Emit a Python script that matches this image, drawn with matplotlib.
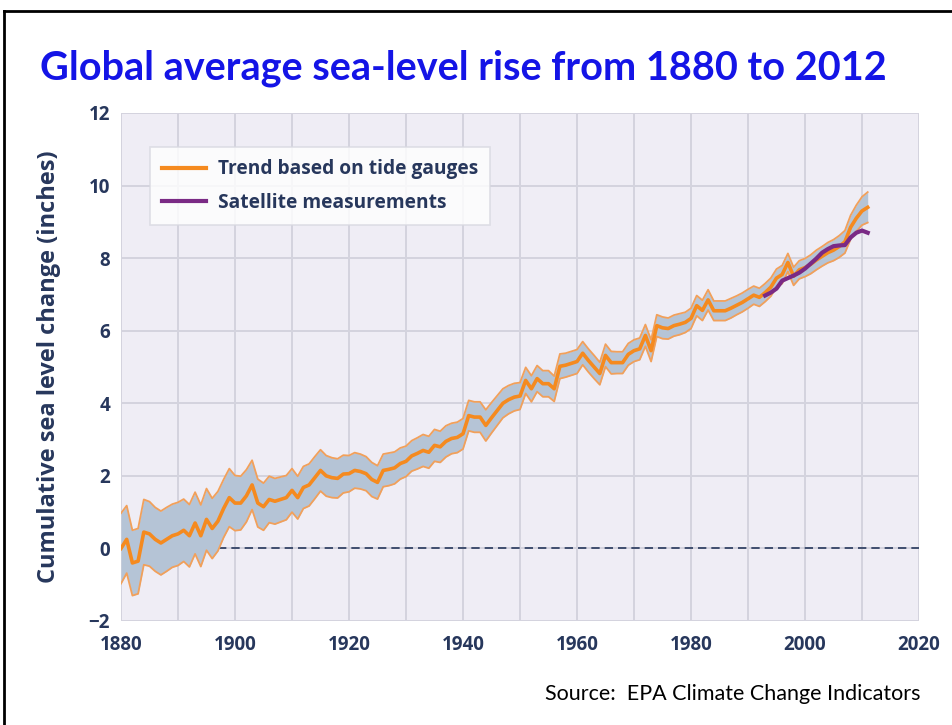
import matplotlib
matplotlib.use("Agg")
import matplotlib.pyplot as plt
from matplotlib.lines import Line2D
import numpy as np

# data (inches)
years = list(range(1880, 2012))
tide_gauge = [
    0.00, 0.25, -0.40, -0.35, 0.45, 0.40, 0.25, 0.15, 0.25, 0.35,
    0.40, 0.50, 0.35, 0.70, 0.35, 0.80, 0.55, 0.75, 1.10, 1.40,
    1.25, 1.25, 1.45, 1.75, 1.25, 1.15, 1.35, 1.30, 1.35, 1.40,
    1.60, 1.40, 1.68, 1.75, 1.95, 2.15, 2.00, 1.95, 1.93, 2.05,
    2.06, 2.15, 2.12, 2.06, 1.90, 1.82, 2.15, 2.18, 2.22, 2.34,
    2.40, 2.55, 2.62, 2.70, 2.65, 2.84, 2.80, 2.95, 3.03, 3.06,
    3.16, 3.66, 3.62, 3.62, 3.39, 3.60, 3.80, 4.00, 4.10, 4.17,
    4.20, 4.63, 4.40, 4.68, 4.54, 4.54, 4.40, 5.02, 5.05, 5.10,
    5.15, 5.38, 5.18, 5.00, 4.82, 5.32, 5.12, 5.12, 5.12, 5.35,
    5.45, 5.50, 5.87, 5.45, 6.14, 6.08, 6.06, 6.14, 6.18, 6.23,
    6.34, 6.69, 6.56, 6.85, 6.55, 6.55, 6.55, 6.62, 6.70, 6.78,
    6.88, 6.98, 6.92, 7.05, 7.20, 7.45, 7.55, 7.88, 7.50, 7.68,
    7.74, 7.83, 7.95, 8.05, 8.15, 8.22, 8.32, 8.45, 8.85, 9.10,
    9.30, 9.40,
]
# half width of the uncertainty band
tide_band = [
    0.97, 0.93, 0.90, 0.90, 0.90, 0.89, 0.88, 0.88, 0.88, 0.87,
    0.87, 0.86, 0.86, 0.85, 0.85, 0.85, 0.83, 0.82, 0.80, 0.80,
    0.76, 0.74, 0.72, 0.68, 0.66, 0.65, 0.64, 0.63, 0.62, 0.61,
    0.60, 0.59, 0.58, 0.58, 0.58, 0.57, 0.56, 0.55, 0.54, 0.52,
    0.50, 0.49, 0.48, 0.47, 0.47, 0.46, 0.45, 0.45, 0.44, 0.43,
    0.42, 0.42, 0.43, 0.44, 0.44, 0.44, 0.43, 0.43, 0.42, 0.42,
    0.42, 0.42, 0.42, 0.42, 0.43, 0.42, 0.41, 0.40, 0.39, 0.38,
    0.37, 0.36, 0.36, 0.36, 0.36, 0.36, 0.35, 0.34, 0.33, 0.33,
    0.33, 0.32, 0.32, 0.32, 0.31, 0.31, 0.31, 0.30, 0.30, 0.30,
    0.30, 0.30, 0.30, 0.30, 0.30, 0.30, 0.29, 0.29, 0.29, 0.28,
    0.28, 0.28, 0.28, 0.28, 0.27, 0.27, 0.27, 0.27, 0.26, 0.26,
    0.26, 0.25, 0.25, 0.25, 0.25, 0.25, 0.25, 0.25, 0.25, 0.25,
    0.25, 0.26, 0.27, 0.27, 0.28, 0.29, 0.30, 0.31, 0.33, 0.36,
    0.39, 0.42,
]
sat_years = list(range(1993, 2012))
satellite = [
    6.97, 7.05, 7.16, 7.38, 7.45, 7.52, 7.60, 7.71, 7.85, 7.99,
    8.15, 8.25, 8.33, 8.35, 8.36, 8.57, 8.70, 8.76, 8.70,
]

navy = "#27375c"
orange = "#f58a1f"

fig = plt.figure(figsize=(9.52, 7.25), dpi=100)
ax = fig.add_axes([121 / 952, 1 - 621 / 725, 798 / 952, 508 / 725])
ax.set_facecolor("#efedf5")

yr = np.array(years)
mid = np.array(tide_gauge)
bw = np.array(tide_band)
ax.fill_between(yr, mid - bw, mid + bw, color="#b5c4d6", lw=0, zorder=2)
ax.plot(yr, mid + bw, color="#f2a05a", lw=1.3, zorder=3)
ax.plot(yr, mid - bw, color="#f2a05a", lw=1.3, zorder=3)
ax.plot(yr, mid, color=orange, lw=2.6, zorder=4)
ax.plot(sat_years, satellite, color="#7a2a85", lw=3.0, zorder=5)
ax.plot([1897, 2020], [0, 0], color=navy, lw=1.2, ls=(0, (5, 3)), zorder=1.5)

ax.set_xlim(1880, 2020)
ax.set_ylim(-2, 12)
ax.set_xticks(range(1880, 2021, 10))
ax.set_xticklabels([str(y) if y % 20 == 0 else "" for y in range(1880, 2021, 10)])
ax.set_yticks(range(-2, 13, 2))
ax.grid(True, color="#d4d3de", lw=1.4, zorder=0)
ax.set_axisbelow(True)
for s in ax.spines.values():
    s.set_visible(False)
ax.tick_params(length=0, labelsize=13.5, labelcolor=navy)
ax.tick_params(axis="x", pad=10)
ax.tick_params(axis="y", pad=8)
for lab in ax.get_xticklabels() + ax.get_yticklabels():
    lab.set_fontweight("bold")
    lab.set_family("Open Sans")
ax.set_ylabel("Cumulative sea level change (inches)", fontsize=17, fontweight="bold",
              color=navy, family="Open Sans", labelpad=20)

handles = [Line2D([], [], color=orange, lw=3), Line2D([], [], color="#7a2a85", lw=3)]
leg = ax.legend(handles, ["Trend based on tide gauges", "Satellite measurements"],
                loc="upper left", bbox_to_anchor=(0.036, 0.933), borderaxespad=0,
                frameon=True, fancybox=False,
                handlelength=2.3, handletextpad=0.6, borderpad=0.65, labelspacing=0.7,
                prop={"family": "Open Sans", "weight": "bold", "size": 13.8})
leg.get_frame().set_edgecolor("#d8d8e0")
leg.get_frame().set_linewidth(1.2)
for t in leg.get_texts():
    t.set_color(navy)

fig.text(40 / 952, 1 - 68 / 725, "Global average sea-level rise from 1880 to 2012",
         fontsize=28.5, fontweight="bold", color="#1414e6", family="Lato", va="center")
fig.text(545 / 952, 1 - 694 / 725, "Source:  EPA Climate Change Indicators",
         fontsize=15.5, color="black", family="Lato", va="center")

# slide frame
fig.add_artist(Line2D([4 / 952, 4 / 952], [0, 1 - 11 / 725], color="black", lw=2))
fig.add_artist(Line2D([4 / 952, 1], [1 - 11 / 725, 1 - 11 / 725], color="black", lw=2))

fig.savefig("out.png", dpi=100)
